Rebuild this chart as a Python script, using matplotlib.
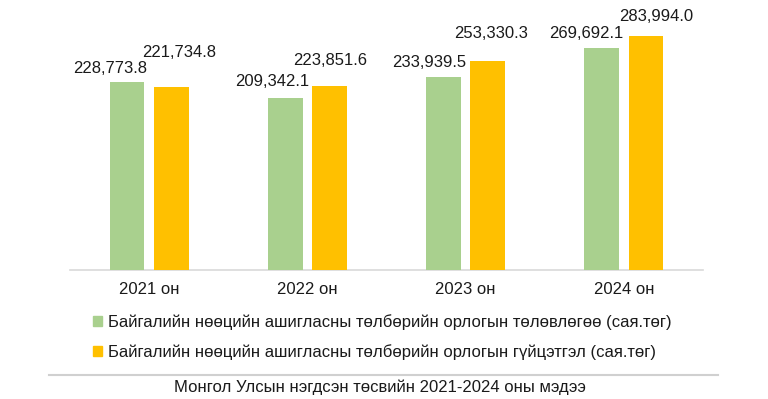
import matplotlib.pyplot as plt
import numpy as np
from matplotlib.patches import Patch

plt.rcParams['font.family'] = ['Liberation Sans', 'DejaVu Sans']

years = ["2021 он", "2022 он", "2023 он", "2024 он"]
plan = [228773.8, 209342.1, 233939.5, 269692.1]
actual = [221734.8, 223851.6, 253330.3, 283994.0]
plan_label = "Байгалийн нөөцийн ашигласны төлбөрийн орлогын төлөвлөгөө (сая.төг)"
actual_label = "Байгалийн нөөцийн ашигласны төлбөрийн орлогын гүйцэтгэл (сая.төг)"
source = "Монгол Улсын нэгдсэн төсвийн 2021-2024 оны мэдээ"

# label nudges (pixels) as placed by hand in the original chart
plan_offsets = [(-17, 13), (-13, 16), (-14, 15), (-15, 14)]
actual_offsets = [(8, 35), (1, 25), (3, 28), (10, 20)]

green = "#A9D08E"
orange = "#FFC000"

fig = plt.figure(figsize=(7.68, 3.99), dpi=100)
ax = fig.add_axes([70 / 768, 129 / 399, 633 / 768, 247 / 399])

x = np.arange(len(years))
w = 0.22
b1 = ax.bar(x - 0.14, plan, width=w, color=green, zorder=3)
b2 = ax.bar(x + 0.14, actual, width=w, color=orange, zorder=3)

for bars, vals, offs in [(b1, plan, plan_offsets), (b2, actual, actual_offsets)]:
    for b, v, off in zip(bars, vals, offs):
        ax.annotate(f"{v:,.1f}", (b.get_x() + b.get_width() / 2, v),
                    xytext=off, textcoords="offset pixels",
                    ha="center", va="center", fontsize=12, color="#1a1a1a")

ax.set_xlim(-0.5, len(years) - 0.5)
ax.set_ylim(0, 300000)
ax.set_xticks(x)
ax.set_xticklabels(years, fontsize=12, color="#1a1a1a")
ax.tick_params(axis="x", length=0, pad=9)
ax.set_yticks([])
for s in ["top", "left", "right"]:
    ax.spines[s].set_visible(False)
ax.spines["bottom"].set_color("#D9D9D9")
ax.spines["bottom"].set_linewidth(1.2)

handles = [Patch(color=green), Patch(color=orange)]
fig.legend(handles, [plan_label, actual_label], loc="center left",
           bbox_to_anchor=(93 / 768, 62 / 399), frameon=False, fontsize=12,
           handlelength=0.55, handleheight=0.55, handletextpad=0.35,
           labelspacing=0.8, borderpad=0, borderaxespad=0,
           labelcolor="#1a1a1a")

fig.add_artist(plt.Line2D([49 / 768, 718 / 768], [24 / 399, 24 / 399],
                          transform=fig.transFigure, color="#D0D0D0", lw=1.5))
fig.text(379.5 / 768, 12 / 399, source, ha="center", va="center",
         fontsize=12, color="#1a1a1a")

fig.savefig("out.png", dpi=100)
